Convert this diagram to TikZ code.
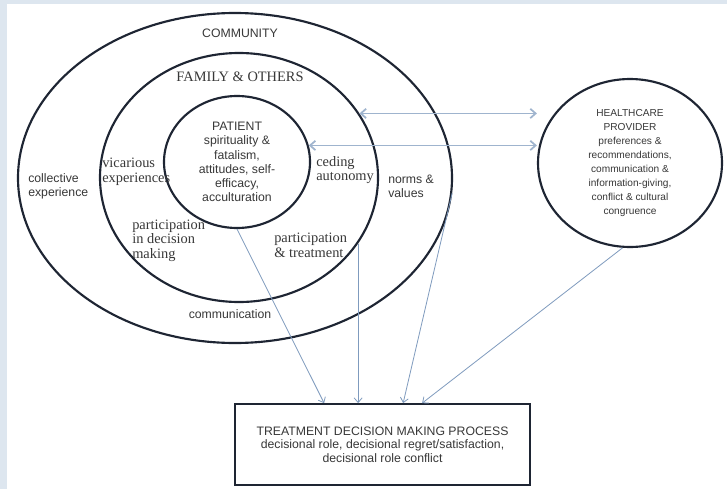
\documentclass[tikz,border=0pt]{standalone}
\usepackage{fontspec}
\setmainfont{Liberation Sans}
\newfontfamily\serifface{Liberation Serif}
\usetikzlibrary{arrows.meta, shapes.geometric, positioning, calc}
\definecolor{ringcol}{HTML}{1E2533}
\definecolor{txtcol}{HTML}{383838}
\definecolor{arrcol}{HTML}{7F9BBE}
\definecolor{slidebg}{HTML}{DDE6EF}

\begin{document}
\begin{tikzpicture}[x=0.75pt, y=-0.75pt,
        ring/.style={ellipse, draw=ringcol, line width=1.6pt, inner sep=0pt, align=center, text=txtcol},
        s/.style={text=txtcol, inner sep=0pt, align=left, font=\fontsize{9.2}{10.8}\selectfont},
        f/.style={text=txtcol, inner sep=0pt, align=left, font=\serifface\fontsize{10.8}{11}\selectfont},
        e/.style={-{Straight Barb[length=3.5pt, width=6pt]}, draw=arrcol, line width=0.6pt},
        e2/.style={{Straight Barb[length=4pt, width=7pt]}-{Straight Barb[length=4pt, width=7pt]}, draw=arrcol!75, line width=1.3pt}]
        \fill[slidebg] (0,0) rectangle (727,489);
        \fill[white] (7,4) rectangle (727,489);
        \useasboundingbox (0,0) rectangle (727,489);

        \draw node[ring, minimum width=325.5pt, minimum height=247.5pt] (com) at (235,178) {};
        \draw node[ring, minimum width=208.5pt, minimum height=186.75pt] (fam) at (239,177.5) {};
        \draw node[ring, minimum width=109.5pt, minimum height=99pt, font=\fontsize{9.2}{10.7}\selectfont] (pat) at (237,162)
          {PATIENT\\spirituality \&\\fatalism,\\attitudes, self-\\efficacy,\\acculturation};
        \draw node[ring, minimum width=138pt, minimum height=126pt, font=\fontsize{7.6}{10.5}\selectfont] (hcp) at (630,163)
          {HEALTHCARE\\PROVIDER\\preferences \&\\recommendations,\\communication \&\\information-giving,\\conflict \& cultural\\congruence};
        \draw node[draw=ringcol, line width=1.3pt, minimum width=221.25pt, minimum height=60.75pt, align=center, text=txtcol,
          font=\fontsize{9.2}{10.2}\selectfont] (tdm) at (382.5,444.5)
          {TREATMENT DECISION MAKING PROCESS\\decisional role, decisional regret/satisfaction,\\decisional role conflict};

        \draw node[s] (comlab) at (240,33) {COMMUNITY};
        \draw node[f] (famlab) at (240,77) {FAMILY \& OTHERS};
        \draw node[s] (commu) at (230,314) {communication};
        \foreach \x/\y/\t [count=\i] in {28/186.5/{collective\\experience}, 388/186.5/{norms \&\\values}}
        \draw node[s, anchor=west] (sl\i) at (\x,\y) {\t};
        \foreach \x/\y/\t [count=\i] in {102/172/{vicarious\\experiences}, 132/240.5/{participation\\in decision\\making},
            316/170/{ceding\\autonomy}, 274/245/{participation\\\& treatment}}
        \draw node[f, anchor=west] (fl\i) at (\x,\y) {\t};

        \draw[e2] (fam.28) -- (fam.28 -| hcp.west);
        \draw[e2] (pat.13) -- (pat.13 -| hcp.west);
        \draw[e] (pat.south) -- ($(tdm.north west)+(90,0)$);
        \draw[e] (fam.-29) -- (fam.-29 |- tdm.north);
        \draw[e] (com.-4) -- ($(tdm.north west)+(169,0)$);
        \draw[e] (hcp.-95) -- ($(tdm.north west)+(188,0)$);
\end{tikzpicture}
\end{document}
